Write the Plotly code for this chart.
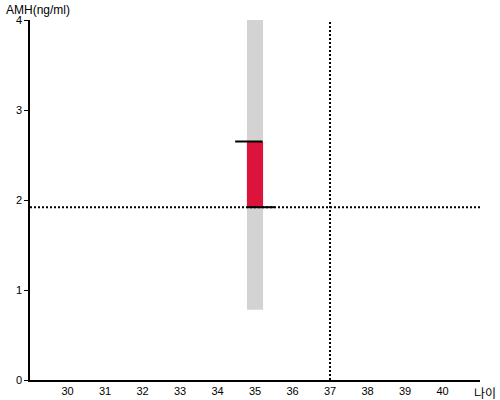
import plotly.graph_objects as go

# Data
x_cat = [35]
range_low = [0.78]
range_high = [4.0]
value_low = [1.92]
value_high = [2.65]
ref_x = 37
ref_y = 1.92
top_mark = [34.47, 35.2]
bottom_mark = [34.8, 35.53]
x_ticks = [30, 31, 32, 33, 34, 35, 36, 37, 38, 39, 40]
y_ticks = [0, 1, 2, 3, 4]
x_range = [29, 41]
y_range = [0, 4]

fig = go.Figure()
fig.add_trace(go.Bar(x=x_cat, y=[range_high[0] - range_low[0]], base=range_low,
                     width=0.43, marker=dict(color="#d3d3d3", line=dict(width=0)),
                     hoverinfo="skip"))
fig.add_trace(go.Bar(x=x_cat, y=[value_high[0] - value_low[0]], base=value_low,
                     width=0.43, marker=dict(color="#dc143c", line=dict(width=0)),
                     hoverinfo="skip"))
# dotted reference lines
fig.add_trace(go.Scatter(x=x_range, y=[ref_y, ref_y], mode="lines",
                         line=dict(color="black", width=2, dash="2px,2px")))
fig.add_trace(go.Scatter(x=[ref_x, ref_x], y=y_range, mode="lines",
                         line=dict(color="black", width=2, dash="2px,2px")))
# solid marks
fig.add_trace(go.Scatter(x=top_mark, y=[value_high[0]] * 2, mode="lines",
                         line=dict(color="black", width=2)))
fig.add_trace(go.Scatter(x=bottom_mark, y=[value_low[0]] * 2, mode="lines",
                         line=dict(color="black", width=2)))

fig.update_layout(
    width=500, height=400,
    margin=dict(l=30, r=20, t=20, b=20),
    paper_bgcolor="white", plot_bgcolor="white",
    showlegend=False, barmode="overlay",
    font=dict(family="Arial, Liberation Sans, sans-serif", size=11, color="black"),
    xaxis=dict(range=x_range, tickvals=x_ticks, showgrid=False, zeroline=False,
               showline=True, linecolor="black", linewidth=1.5, ticks="", ticklen=0,
               automargin=False),
    yaxis=dict(range=y_range, tickvals=y_ticks, showgrid=False, zeroline=False,
               showline=True, linecolor="black", linewidth=1.5, ticks="outside",
               ticklen=4, tickcolor="black", automargin=False),
    annotations=[
        dict(text="AMH(ng/ml)", x=0, y=1, xref="paper", yref="paper",
             xshift=-26, yshift=1, xanchor="left", yanchor="bottom", showarrow=False,
             font=dict(size=12, family="Arial, Liberation Sans, sans-serif")),
        dict(text="나이", x=1, y=0, xref="paper", yref="paper",
             xshift=-8, yshift=-12, xanchor="left", yanchor="middle", showarrow=False,
             font=dict(size=12, family="Noto Sans CJK KR")),
    ],
)
fig.write_html("out.html", config={"displayModeBar": False},
               post_script="document.body.style.margin='0';document.body.style.overflow='hidden';")
